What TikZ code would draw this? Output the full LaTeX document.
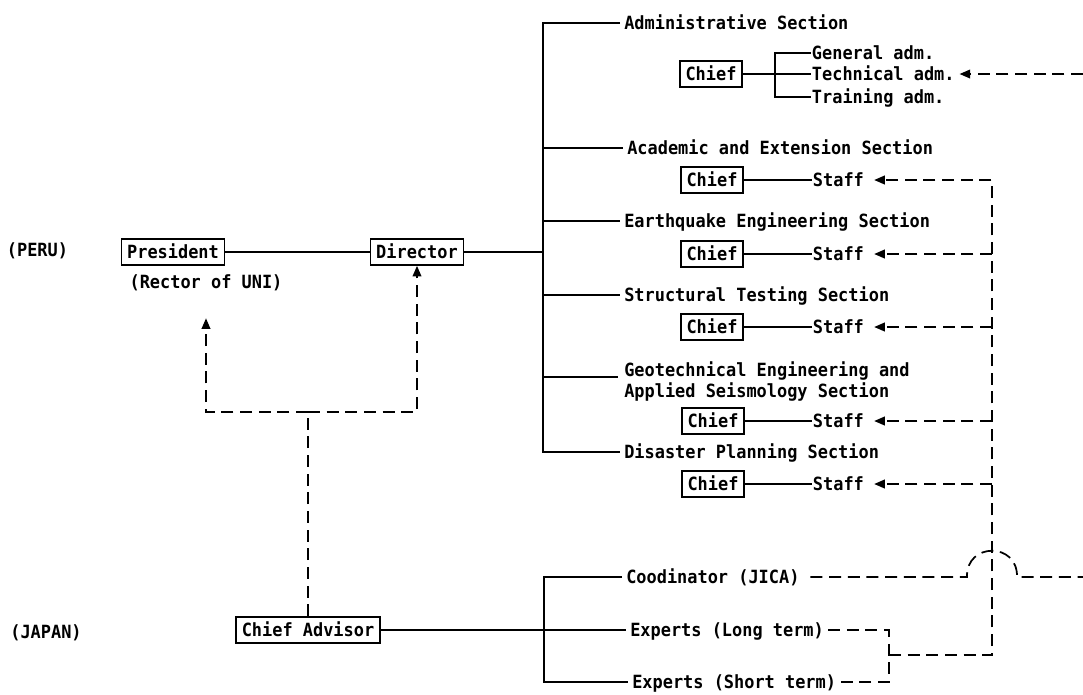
\documentclass[tikz,border=0pt]{standalone}
\usepackage{fontspec}
\setmainfont{DejaVu Sans Mono}[FakeStretch=0.93]
\usetikzlibrary{arrows.meta}
\begin{document}
\begin{tikzpicture}[x=0.75pt,y=-0.75pt,
  every node/.style={font=\fontsize{13.65}{16}\selectfont\bfseries, inner sep=0pt},
  tx/.style={text height=10pt, text depth=0pt},
  lbl/.style={tx, anchor=west, inner xsep=3pt},
  sub/.style={tx, anchor=west, inner xsep=0.5pt},
  bx/.style={tx, draw, line width=1.1pt, inner xsep=4.3pt, inner ysep=4.8pt},
  ln/.style={line width=1.2pt},
  dsh/.style={line width=1.3pt, dash pattern=on 9pt off 5pt},
  arr/.style={-{Triangle[length=8pt,width=6.5pt]}},
]
\useasboundingbox (0,0) rectangle (1083,694);

% left column
\node[tx] (peru) at (37.5,250) {(PERU)};
\node[bx] (pres) at (173,252) {President};
\node[bx] (dir) at (417,252) {Director};
\node[tx] (rector) at (206,282) {(Rector of UNI)};
\node[tx] (japan) at (46,632) {(JAPAN)};
\node[bx] (ca) at (308,630) {Chief Advisor};

% sections
\node[lbl] (adm) at (620,23) {Administrative Section};
\node[lbl] (aca) at (623,148) {Academic and Extension Section};
\node[lbl] (eq) at (620,221) {Earthquake Engineering Section};
\node[lbl] (st) at (620,295) {Structural Testing Section};
\node[anchor=north west, align=left, inner xsep=3pt] (geo) at (620,361) {Geotechnical Engineering and\\Applied Seismology Section};
\node[lbl] (dp) at (620,452) {Disaster Planning Section};
\node[lbl] (coo) at (622,577) {Coodinator (JICA)};
\node[lbl] (el) at (626,630) {Experts (Long term)};
\node[lbl] (es) at (628,682) {Experts (Short term)};

% chiefs
\node[bx] (c0) at (711,74) {Chief};
\node[bx] (c1) at (712,180) {Chief};
\node[bx] (c2) at (712,254) {Chief};
\node[bx] (c3) at (712,327) {Chief};
\node[bx] (c4) at (713,421) {Chief};
\node[bx] (c5) at (713,484) {Chief};

% staff
\node[sub] (s1) at (812,180) {Staff};
\node[sub] (s2) at (812,254) {Staff};
\node[sub] (s3) at (812,327) {Staff};
\node[sub] (s4) at (812,421) {Staff};
\node[sub] (s5) at (812,484) {Staff};

% admin sub-units
\node[sub] (gen) at (811,53) {General adm.};
\node[sub] (tech) at (811,74) {Technical adm.};
\node[sub] (train) at (811,97) {Training adm.};

% coordinates
\coordinate (busx) at (543,0);
\coordinate (busy) at (544,0);
\coordinate (brk) at (775,74);
\coordinate (geoJ) at (543,377);
\coordinate (vx) at (992,0);
\coordinate (ebr) at (889,655);
\coordinate (tR) at (1083,74);
\coordinate (hopL) at (967,577);
\coordinate (hopR) at (1017,577);
\coordinate (cR) at (1083,577);
\coordinate (lj) at (308,412);

% solid connectors
\draw[ln] (pres) -- (dir);
\draw[ln] (dir.east) -- (dir.east -| busx);
\draw[ln] (adm.west) -- (adm.west -| busx) -- (dp.west -| busx) -- (dp.west);
\draw[ln] (aca.west -| busx) -- (aca.west);
\draw[ln] (eq.west -| busx) -- (eq.west);
\draw[ln] (st.west -| busx) -- (st.west);
\draw[ln] (geoJ) -- (618,377);
\draw[ln] (c0) -- (tech);
\draw[ln] (gen.west) -- (gen.west -| brk) -- (train.west -| brk) -- (train.west);
\foreach \i in {1,...,5} { \draw[ln] (c\i) -- (s\i); }
\draw[ln] (ca) -- (el);
\draw[ln] (coo.west) -- (coo.west -| busy) -- (es.west -| busy) -- (es.west);

% dashed connectors
\draw[dsh,arr,shorten >=22pt] (lj) -- (lj -| rector) -- (rector.south);
\draw[dsh,arr] (lj) -- (lj -| dir) -- (dir.south);
\draw[dsh] (ca.north) -- (lj);
\draw[dsh,arr,shorten >=3pt] (tR) -- (tech.east);
\draw[dsh] (el.east) -- (el.east -| ebr) -- (es.east -| ebr) -- (es.east);
\draw[dsh,arr,shorten >=7pt] (ebr) -- (ebr -| vx) -- (s1.east -| vx) -- (s1.east);
\foreach \i in {2,...,5} { \draw[dsh,arr,shorten >=7pt] (s\i.east -| vx) -- (s\i.east); }
\draw[dsh,shorten <=5pt] (coo.east) -- (hopL) .. controls (966,542) and (1018,542) .. (hopR) -- (cR);
\end{tikzpicture}
\end{document}
